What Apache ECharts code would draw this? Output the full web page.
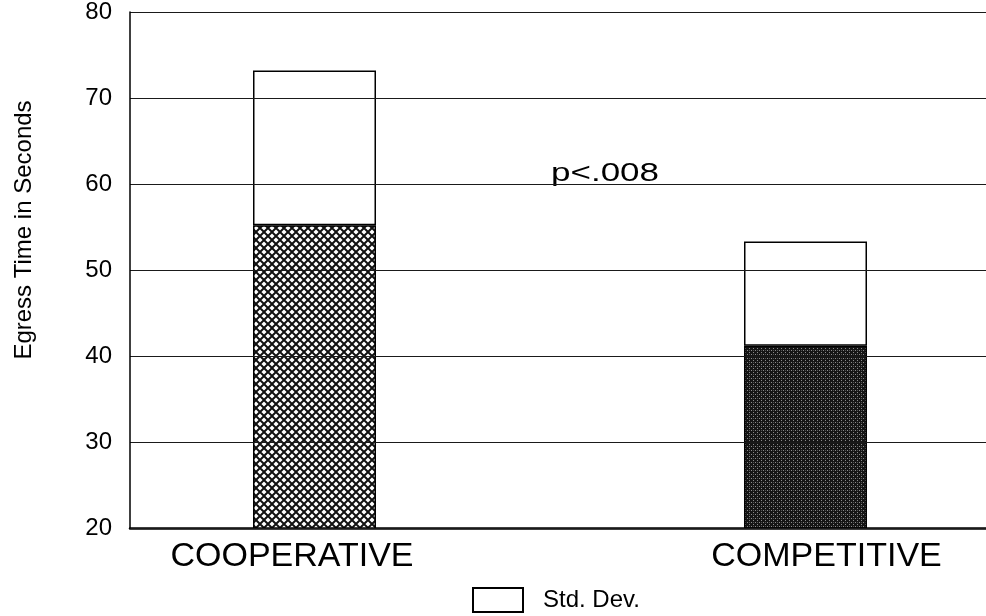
<!DOCTYPE html>
<html>
<head>
<meta charset="utf-8">
<script src="https://cdn.jsdelivr.net/npm/echarts@6/dist/echarts.min.js"></script>
<style>
  html, body { margin: 0; padding: 0; background: #fff; }
  #chart { width: 986px; height: 616px; }
</style>
</head>
<body>
<div id="chart"></div>
<script>
// values
const categories = ['COOPERATIVE', 'COMPETITIVE']
const means = [55.2, 41.2]
const stdDevs = [18.0, 12.1]
const yTicks = [20, 30, 40, 50, 60, 70, 80]
const note = 'p<.008'

const FONT = '"Liberation Sans", Arial, sans-serif'

// small canvas tiles to mimic the printed fill patterns
const makeCrossHatch = () => {
  const c = document.createElement('canvas')
  c.width = 8
  c.height = 8
  const ctx = c.getContext('2d')
  ctx.fillStyle = '#fff'
  ctx.fillRect(0, 0, 8, 8)
  ctx.strokeStyle = '#111'
  ctx.lineWidth = 2
  ctx.beginPath()
  ctx.moveTo(0, 0)
  ctx.lineTo(8, 8)
  ctx.moveTo(8, 0)
  ctx.lineTo(0, 8)
  ctx.stroke()
  return c
}

const makeDarkDots = () => {
  const c = document.createElement('canvas')
  c.width = 4
  c.height = 4
  const ctx = c.getContext('2d')
  ctx.fillStyle = '#151515'
  ctx.fillRect(0, 0, 4, 4)
  ctx.fillStyle = '#8a8a8a'
  ctx.fillRect(1, 0, 1, 1)
  ctx.fillRect(3, 2, 1, 1)
  ctx.fillStyle = '#505050'
  ctx.fillRect(1, 2, 1, 1)
  return c
}

const patterns = [
  { image: makeCrossHatch(), repeat: 'repeat' },
  { image: makeDarkDots(), repeat: 'repeat' }
]

const chart = echarts.init(document.getElementById('chart'))

const option = {
  backgroundColor: '#fff',
  animation: false,
  textStyle: { fontFamily: FONT, color: '#000' },
  grid: [
    // frame + value axis
    { left: 130, right: 0, top: 12, bottom: 88, outerBoundsMode: 'none', containLabel: false },
    // bars (bands wider than the frame so the bars sit where the print has them)
    { left: 69, width: 982, top: 12, bottom: 88, outerBoundsMode: 'none', containLabel: false }
  ],
  legend: {
    data: ['Std. Dev.'],
    left: 467,
    top: 582,
    itemWidth: 50,
    itemHeight: 24,
    icon: 'rect',
    textStyle: { fontFamily: FONT, fontSize: 24, color: '#000', padding: [0, 0, 0, 15] }
  },
  graphic: [
    {
      type: 'text',
      x: 551,
      y: 162,
      scaleX: 1.4,
      style: { text: note, font: '25px ' + FONT, fill: '#000' }
    }
  ],
  xAxis: [
    {
      gridIndex: 0,
      type: 'category',
      data: categories,
      axisLine: { show: true, lineStyle: { color: '#000', width: 2.5 } },
      axisTick: { show: false },
      axisLabel: { show: false }
    },
    {
      gridIndex: 1,
      type: 'category',
      data: categories,
      axisLine: { show: false },
      axisTick: { show: false },
      axisLabel: {
        margin: 12,
        formatter: (v, i) => (i === 0 ? '{l|' + v + '}' : '{r|' + v + '}'),
        rich: {
          l: { fontFamily: FONT, fontSize: 34, color: '#000', padding: [0, 45, 0, 0] },
          r: { fontFamily: FONT, fontSize: 34, color: '#000', padding: [0, 0, 0, 42] }
        }
      }
    }
  ],
  yAxis: [
    {
      gridIndex: 0,
      type: 'value',
      min: yTicks[0],
      max: yTicks[yTicks.length - 1],
      interval: yTicks[1] - yTicks[0],
      z: 5,
      name: 'Egress Time in Seconds',
      nameLocation: 'middle',
      nameRotate: 90,
      nameGap: 94,
      nameTextStyle: { fontFamily: FONT, fontSize: 24, color: '#000', padding: [0, 0, 0, 80] },
      axisLine: { show: true, lineStyle: { color: '#000', width: 1.5 } },
      axisTick: { show: false },
      axisLabel: { fontFamily: FONT, fontSize: 24, color: '#000', margin: 18 },
      splitLine: { show: true, lineStyle: { color: '#1a1a1a', width: 1.2 } }
    },
    {
      gridIndex: 1,
      type: 'value',
      min: yTicks[0],
      max: yTicks[yTicks.length - 1],
      show: false,
      splitLine: { show: false }
    }
  ],
  series: [
    {
      name: 'Mean',
      type: 'bar',
      xAxisIndex: 1,
      yAxisIndex: 1,
      stack: 'egress',
      barWidth: 123,
      data: means.map((v, i) => ({
        value: v,
        itemStyle: { color: patterns[i], borderColor: '#000', borderWidth: 1.5 }
      }))
    },
    {
      name: 'Std. Dev.',
      type: 'bar',
      xAxisIndex: 1,
      yAxisIndex: 1,
      stack: 'egress',
      barWidth: 123,
      itemStyle: { color: '#fff', borderColor: '#000', borderWidth: 1.5 },
      data: stdDevs
    }
  ]
}

chart.setOption(option)
</script>
</body>
</html>
